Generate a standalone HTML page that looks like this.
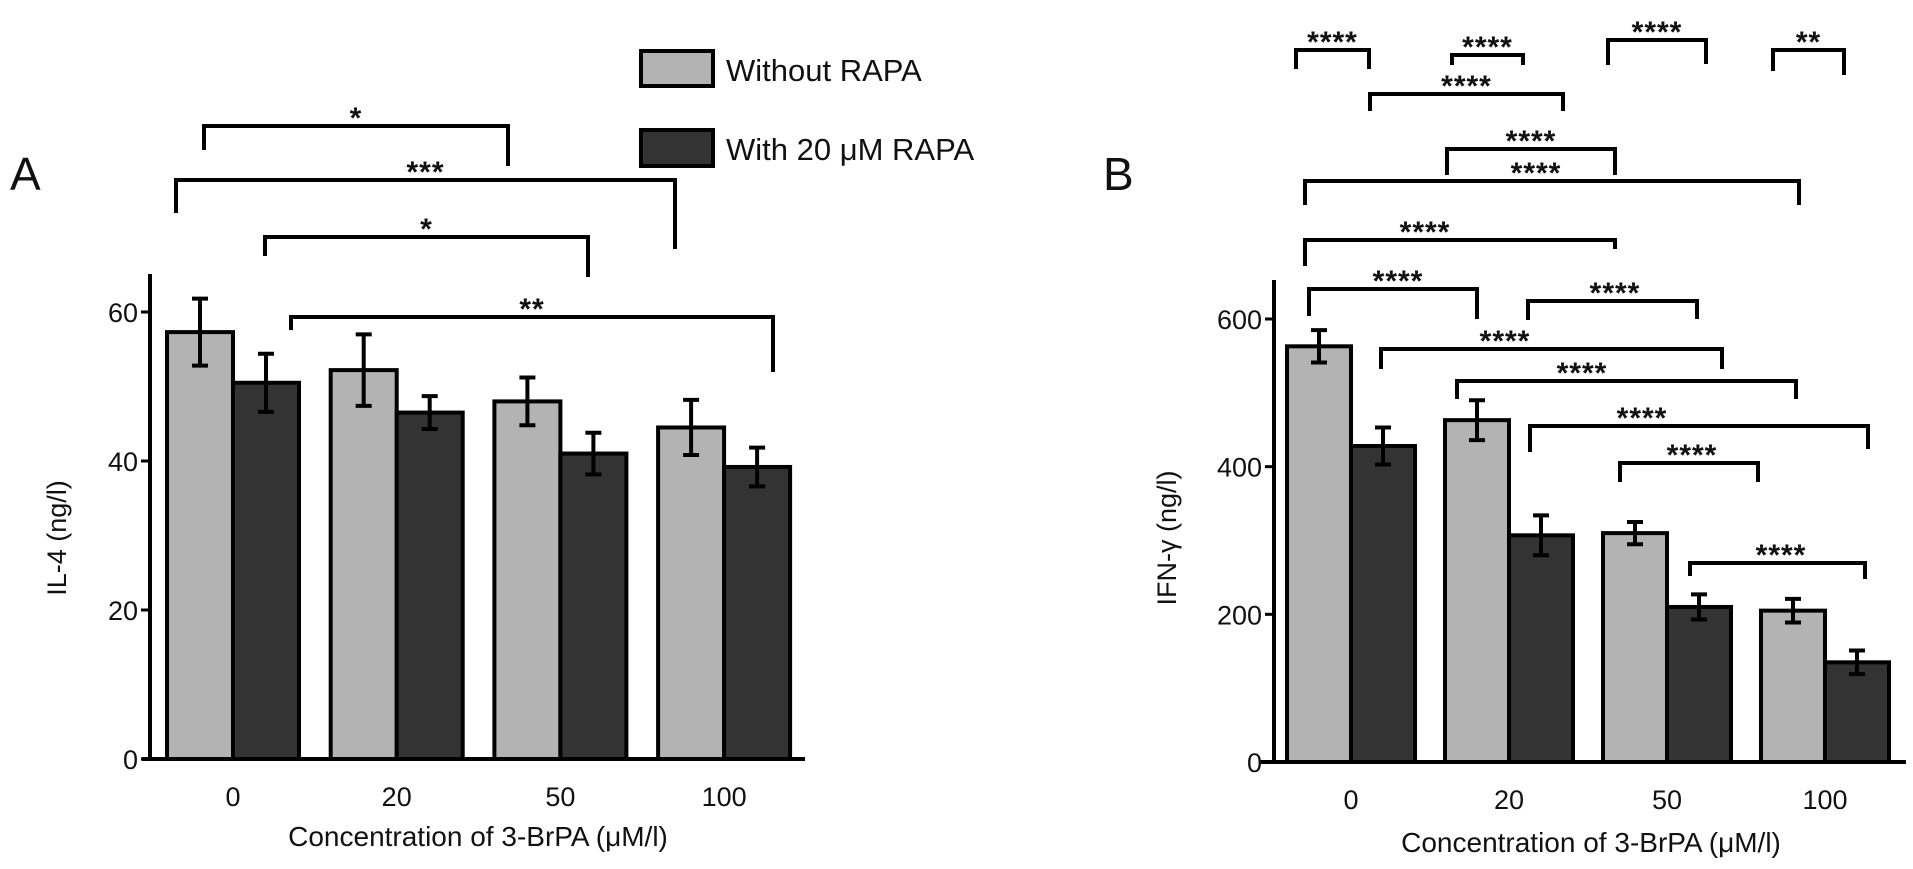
<!DOCTYPE html>
<html><head><meta charset="utf-8">
<style>
html,body{margin:0;padding:0;background:#fff;}
svg{display:block;font-family:"Liberation Sans",Arial,sans-serif;}
</style></head>
<body>
<svg id="c" width="1913" height="869" viewBox="0 0 1913 869" xmlns="http://www.w3.org/2000/svg"></svg>
<script>
// Panel A data
const catsA = ["0","20","50","100"];
const withoutA = [57.3, 52.2, 48, 44.5];
const withoutErrA = [4.5, 4.8, 3.2, 3.7];
const withA = [50.5, 46.5, 41, 39.2];
const withErrA = [3.9, 2.2, 2.8, 2.6];
const ticksA = [0, 20, 40, 60];
// Panel B data
const catsB = ["0","20","50","100"];
const withoutB = [563, 463, 310, 205];
const withoutErrB = [22, 27, 15, 16];
const withB = [428, 307, 210, 135];
const withErrB = [25, 27, 17, 16];
const ticksB = [0, 200, 400, 600];
// significance labels
const sigA = ["*","***","*","**"];
const sigB = ["****","****","****","**","****","****","****","****","****","****","****","****","****","****","****"];

const NS = "http://www.w3.org/2000/svg";
const svg = document.getElementById('c');
function mk(tag, attrs, parent){
  const e = document.createElementNS(NS, tag);
  for (const k in attrs) e.setAttribute(k, attrs[k]);
  (parent||svg).appendChild(e);
  return e;
}
function txt(s, x, y, size, anchor, parent, extra){
  const t = mk('text', Object.assign({x:x, y:y, 'font-size':size, 'text-anchor':anchor||'middle', fill:'#111'}, extra||{}), parent);
  t.textContent = s;
  return t;
}

function panel(cfg){
  const g = mk('g', {});
  
  
  const y = v => cfg.y0 - (v/cfg.vmax)*(cfg.y0 - cfg.yTopVal);
  const cx = i => cfg.c0 + i*cfg.step;
  for (let i=0;i<cfg.cats.length;i++){
    const series = [[cfg.wo, cfg.woE, '#b3b3b3', -1, 'without-rapa'], [cfg.w, cfg.wE, '#333333', 0, 'with-rapa']];
    series.forEach(s=>{
      const v = s[0][i], e = s[1][i];
      const x = cx(i) + s[3]*cfg.bw;
      const r = mk('rect', {x:x, y:y(v), width:cfg.bw, height:cfg.y0 - y(v), fill:s[2], stroke:'#000', 'stroke-width':4}, g);
      
      
      const m = x + cfg.bw/2;
      const eb = mk('path', {d:`M${m},${y(v+e)}V${y(v-e)}M${m-8},${y(v+e)}H${m+8}M${m-8},${y(v-e)}H${m+8}`, stroke:'#000', 'stroke-width':4, fill:'none'}, g);
      
      
    });
    const tl = txt(cfg.cats[i], cx(i), cfg.y0 + 47, 27, 'middle', g);
    
    
  }
  const ax = mk('path', {d:`M${cfg.ax},${cfg.axTop}V${cfg.y0}M${cfg.x0},${cfg.y0}H${cfg.x1}`, stroke:'#000', 'stroke-width':4, fill:'none'}, g);
  
  
  cfg.ticks.forEach(t=>{
    mk('line', {x1:cfg.ax-9, x2:cfg.ax, y1:y(t), y2:y(t), stroke:'#000', 'stroke-width':3}, g);
    const l = txt(String(t), cfg.ax-12, y(t)+10, 27, 'end', g);
    
    
  });
  const xt = txt('Concentration of 3-BrPA (\u03bcM/l)', cfg.xtX, cfg.xtY, 28, 'middle', g);
  
  
  const yt = txt(cfg.ytitle, 0, 0, 27, 'middle', g, {transform:`translate(${cfg.ytX},${cfg.ytY}) rotate(-90)`});
  
  
  const pl = txt(cfg.letter, cfg.lx, 190, 46, 'start', g);
  
  
  cfg.br.forEach((b,i)=>{
    const p = mk('path', {d:`M${b[0]},${b[3]}V${b[2]}H${b[1]}V${b[4]}`, stroke:'#000', 'stroke-width':4, fill:'none'}, g);
    
    
    const sx = b[5] !== undefined ? b[5] : (b[0]+b[1])/2;
    const s = txt(cfg.sig[i], sx, b[2] + 2, 30, 'middle', g, {'letter-spacing':'1', 'font-weight':'bold'});
    
    
  });
}

panel({name:'panel-a', cats:catsA, wo:withoutA, woE:withoutErrA, w:withA, wE:withErrA, ticks:ticksA,
  vmax:60, y0:759, yTopVal:312, c0:233, step:163.7, bw:66, ax:150, axTop:274, x0:142, x1:805,
  xtX:478, xtY:846, ytitle:'IL-4 (ng/l)', ytX:66, ytY:538, letter:'A', lx:10, sig:sigA,
  br:[[204,508,126,150,166],[176,675,180,213,249],[265,588,237,256,277],[291,773,317,330,372]]});

panel({name:'panel-b', cats:catsB, wo:withoutB, woE:withoutErrB, w:withB, wE:withErrB, ticks:ticksB,
  vmax:600, y0:762, yTopVal:319, c0:1351, step:158, bw:64, ax:1274, axTop:280, x0:1260, x1:1906,
  xtX:1591, xtY:852, ytitle:'IFN-\u03b3 (ng/l)', ytX:1176, ytY:538, letter:'B', lx:1103, sig:sigB,
  br:[[1296,1369,50,69,69],[1452,1523,55,65,65],[1608,1706,40,65,64],[1773,1844,50,71,75],
      [1370,1563,94,111,111],[1447,1615,149,175,175],[1305,1799,181,205,205,1536],[1305,1615,240,266,249,1425],
      [1309,1477,289,316,319,1398],[1528,1697,301,320,319,1615],[1381,1722,349,369,369,1505],
      [1457,1796,381,399,399,1582],[1530,1868,426,452,449,1642],[1620,1758,463,482,482,1692],
      [1690,1865,563,576,579,1781]]});

const lg = mk('g', {});


const l1 = mk('rect', {x:641, y:51, width:72, height:35, fill:'#b3b3b3', stroke:'#000', 'stroke-width':4}, lg);


const l2 = mk('rect', {x:641, y:130, width:72, height:36, fill:'#333333', stroke:'#000', 'stroke-width':4}, lg);


const t1 = txt('Without RAPA', 726, 81, 31, 'start', lg);


const t2 = txt('With 20 \u03bcM RAPA', 726, 160, 31, 'start', lg);


</script>
</body></html>
